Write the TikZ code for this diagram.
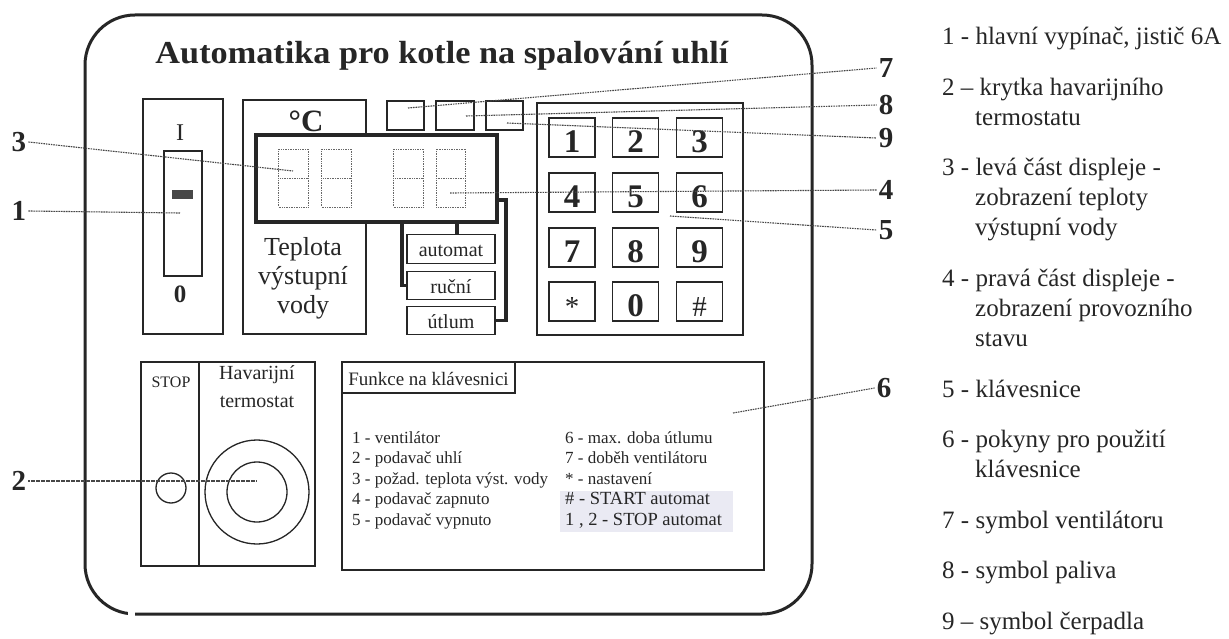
\documentclass[tikz,border=0pt]{standalone}
\usepackage{fontspec}
\setmainfont{Liberation Serif}
\newfontfamily\ttlfont[FakeStretch=1.07]{Liberation Serif}
\newcommand\fsz[1]{\fontsize{#1}{#1}\selectfont}
\definecolor{ink}{gray}{0.15}
\definecolor{hlcol}{RGB}{234,234,243}
\begin{document}
\begin{tikzpicture}[x=1pt,y=-1pt,
  every node/.style={inner sep=0pt, text=ink},
  frame/.style={draw=ink, line width=3pt},
  box/.style={draw=ink, line width=1.3pt, inner sep=0pt},
  dispbox/.style={draw=ink, line width=4pt, fill=white},
  digit/.style={draw=ink!70, line width=0.7pt, densely dotted},
  key/.style={box, minimum width=46pt, minimum height=39pt, text height=30.5pt, text depth=0pt, font=\bfseries\fsz{33}},
  modebox/.style={box, minimum width=88pt, minimum height=28.5pt, text height=15.5pt, text depth=0pt, font=\fsz{20}},
  bracket/.style={draw=ink, line width=3.5pt},
  call/.style={draw=ink!85, line width=1.1pt, dash pattern=on 1.6pt off 0.9pt},
  lbl/.style={font=\bfseries\fsz{29}, inner sep=2pt},
  leg/.style={anchor=base west, font=\fsz{25}},
  fn/.style={anchor=base west, font=\fsz{17}}]

\fill[white] (0,0) rectangle (1229,639);
\useasboundingbox (0,0) rectangle (1229,639);

% outer frame
\draw[frame, rounded corners=50pt] (85,15) rectangle (812,614);
\fill[white] (128,610) rectangle (135,619);

% title
\node[anchor=base, font=\ttlfont\bfseries\fsz{32}] (title) at (442,64) {Automatika pro kotle na spalování uhlí};

% main switch
\node[box, minimum width=80pt, minimum height=235pt] (sw) at (183,216.5) {};
\node[anchor=base, font=\fsz{24}] (swI) at (180,141) {I};
\node[box, minimum width=38pt, minimum height=125pt] (swin) at (183,213.5) {};
\node[fill=ink!85, minimum width=21pt, minimum height=9pt] (swbar) at (182.5,194.5) {};
\node[anchor=base, font=\bfseries\fsz{25}] (sw0) at (180,302) {0};

% temperature panel
\node[box, minimum width=123pt, minimum height=234pt] (tb) at (304.5,217) {};
\node[anchor=base, font=\bfseries\fsz{31}] (degC) at (306,132) {°C};
\node[anchor=base, font=\fsz{26}] (tp1) at (303,255) {Teplota};
\node[anchor=base, font=\fsz{26}] (tp2) at (303,284) {výstupní};
\node[anchor=base, font=\fsz{26}] (tp3) at (303,313) {vody};

% display
\node[dispbox, minimum width=241pt, minimum height=87pt] (disp) at (376.5,178.5) {};
\foreach \n/\cx in {1/293.5, 2/336.5, 3/408.5, 4/451}{
  \node[digit, minimum width=29.5pt, minimum height=58pt] (d\n) at (\cx,178) {};
  \draw[digit] (d\n.west) -- (d\n.east);
}

% symbol boxes
\node[box, minimum width=37pt, minimum height=29pt] (s7) at (405.5,115.5) {};
\node[box, minimum width=38pt, minimum height=29pt] (s8) at (455,115.5) {};
\node[box, minimum width=37pt, minimum height=29pt] (s9) at (504.5,115.5) {};

% mode boxes
\node[modebox] (automat) at (451,249) {automat};
\node[modebox] (rucni) at (451,285.5) {ruční};
\node[modebox] (utlum) at (451,320.5) {útlum};
\coordinate (blx) at (402,0);
\coordinate (acx) at (457,0);
\coordinate (brx) at (506,0);
\coordinate (bty) at (0,200);
\draw[bracket] (blx |- disp.south) |- (rucni.west);
\draw[bracket] (acx |- disp.south) -- (acx |- automat.north);
\draw[bracket] (disp.east |- bty) -| (brx |- utlum.east) -- (utlum.east);

% keypad
\node[box, minimum width=206pt, minimum height=232pt] (kp) at (640,219) {};
\foreach \lab/\nm/\cx/\cy in {1/k1/572/137.5, 2/k2/635.5/137.5, 3/k3/699.5/137.5,
  4/k4/572/192.5, 5/k5/635.5/192.5, 6/k6/699.5/192.5,
  7/k7/572/247.5, 8/k8/635.5/247.5, 9/k9/699.5/247.5, 0/k0/635.5/301.5}
  \node[key] (\nm) at (\cx,\cy) {\lab};
\node[key, font=\fsz{29}] (kstar) at (572,301.5) {*};
\node[key, font=\fsz{29}] (khash) at (699.5,301.5) {\#};

% STOP / thermostat
\node[box, minimum width=174pt, minimum height=204pt] (stb) at (228,464) {};
\coordinate (dvx) at (199,0);
\draw[draw=ink, line width=1.3pt] (dvx |- stb.north) -- (dvx |- stb.south);
\node[anchor=base, font=\fsz{16}] (stop) at (171,387) {STOP};
\node[anchor=base, font=\fsz{20}] (hav1) at (257,379) {Havarijní};
\node[anchor=base, font=\fsz{20}] (hav2) at (257,407) {termostat};
\node[circle, draw=ink, line width=1.3pt, minimum size=30pt] (stopbtn) at (171,488) {};
\node[circle, draw=ink, line width=1.3pt, minimum size=104pt] (therm) at (257,492) {};
\node[circle, draw=ink, line width=1.3pt, minimum size=60pt] (thermin) at (257,492) {};

% functions box
\node[box, minimum width=422pt, minimum height=208pt] (fb) at (553,466) {};
\fill[hlcol] (560,491) rectangle (733,532);
\node[box, minimum width=173pt, minimum height=31pt, font=\fsz{19}, text height=15pt, text depth=0pt] (fbt) at (428.5,377.5) {Funkce na klávesnici};
\node[fn] (f1) at (352,443) {1 - ventilátor};
\node[fn] (f2) at (352,463.5) {2 - podavač uhlí};
\node[fn] (f3) at (352,484) {3 - požad. teplota výst. vody};
\node[fn] (f4) at (352,504.5) {4 - podavač zapnuto};
\node[fn] (f5) at (352,525) {5 - podavač vypnuto};
\node[fn] (f6) at (565,443) {6 - max. doba útlumu};
\node[fn] (f7) at (565,463.5) {7 - doběh ventilátoru};
\node[fn] (f8) at (565,484) {* - nastavení};
\node[fn, font=\fsz{18.5}] (f9) at (565,504.5) {\# - START automat};
\node[fn, font=\fsz{18.5}] (f10) at (565,525) {1 , 2 - STOP automat};

% callout labels
\node[lbl] (n3) at (19,142) {3};
\node[lbl] (n1) at (19,211) {1};
\node[lbl] (n2) at (19,481) {2};
\node[lbl] (n7) at (886,68) {7};
\node[lbl] (n8) at (886,105) {8};
\node[lbl] (n9) at (886,138) {9};
\node[lbl] (n4) at (886,190) {4};
\node[lbl] (n5) at (886,230) {5};
\node[lbl] (n6) at (884,388) {6};
\coordinate (p3) at (293,171);
\coordinate (p1) at (180,213);
\coordinate (p2) at (257,481);
\coordinate (p7) at (408,108);
\coordinate (p8) at (466,116);
\coordinate (p9) at (507,123);
\coordinate (p4) at (450,193);
\coordinate (p5) at (670,216);
\coordinate (p6) at (733,413);
\draw[call] (n3.east) -- (p3);
\draw[call] (n1.east) -- (p1);
\draw[call] (n2.east) -- (p2);
\draw[call] (p7) -- (n7.west);
\draw[call] (p8) -- (n8.west);
\draw[call] (p9) -- (n9.west);
\draw[call] (p4) -- (n4.west);
\draw[call] (p5) -- (n5.west);
\draw[call] (p6) -- (n6.west);

% legend
\node[leg] (g1) at (942,45) {1 - hlavní vypínač, jistič 6A};
\node[leg] (g2) at (942,95.5) {2 – krytka havarijního};
\node[leg] (g2b) at (975,125.5) {termostatu};
\node[leg] (g3) at (942,176) {3 - levá část displeje -};
\node[leg] (g3b) at (975,206) {zobrazení teploty};
\node[leg] (g3c) at (975,236) {výstupní vody};
\node[leg] (g4) at (942,286.5) {4 - pravá část displeje -};
\node[leg] (g4b) at (975,316.5) {zobrazení provozního};
\node[leg] (g4c) at (975,346.5) {stavu};
\node[leg] (g5) at (942,397) {5 - klávesnice};
\node[leg] (g6) at (942,447.5) {6 - pokyny pro použití};
\node[leg] (g6b) at (975,477.5) {klávesnice};
\node[leg] (g7) at (942,528) {7 - symbol ventilátoru};
\node[leg] (g8) at (942,578.5) {8 - symbol paliva};
\node[leg] (g9) at (942,629) {9 – symbol čerpadla};
\end{tikzpicture}
\end{document}
